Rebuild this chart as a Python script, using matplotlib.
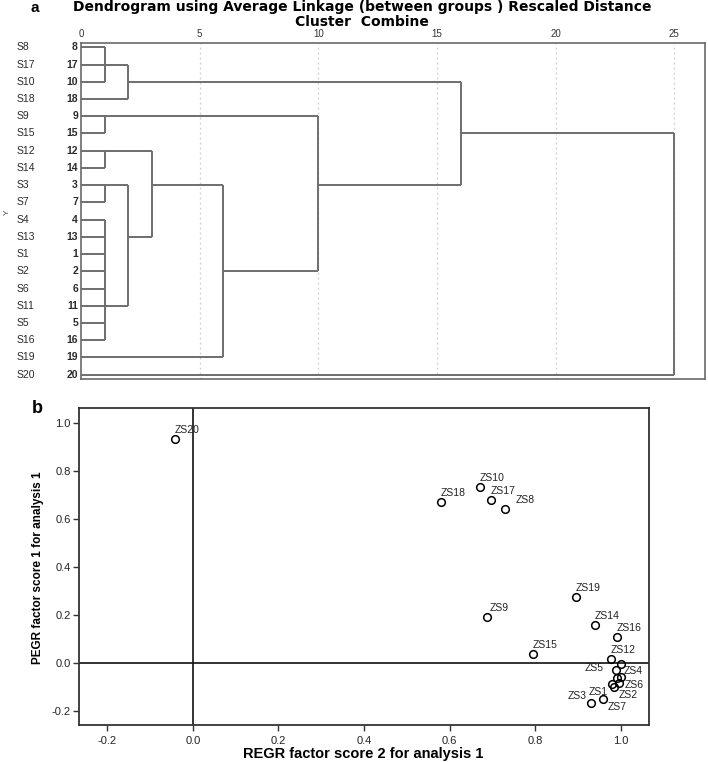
import matplotlib
matplotlib.use("Agg")
import matplotlib.pyplot as plt

plt.rcParams['font.family'] = ['Liberation Sans', 'DejaVu Sans']

# ---------------- Dendrogram data ----------------
row_labels = ['S8', 'S17', 'S10', 'S18', 'S9', 'S15', 'S12', 'S14', 'S3', 'S7',
              'S4', 'S13', 'S1', 'S2', 'S6', 'S11', 'S5', 'S16', 'S19', 'S20']
case_numbers = [8, 17, 10, 18, 9, 15, 12, 14, 3, 7, 4, 13, 1, 2, 6, 11, 5, 16, 19, 20]
# merges: children node ids (leaves are row indices 0..19, new nodes 20+i)
merge_children = [[0, 1, 2], [20, 3], [4, 5], [6, 7], [8, 9],
                  [10, 11, 12, 13, 14, 15, 16, 17], [24, 25], [23, 26],
                  [27, 18], [22, 28], [21, 29], [30, 19]]
merge_dist = [1, 2, 1, 1, 1, 1, 2, 3, 6, 10, 16, 25]
merge_rep_row = [1, 2, 4, 6, 8, 15, 11, 8, 13, 8, 5, 12]
dist_ticks = [0, 5, 10, 15, 20, 25]

# ---------------- Scatter data ----------------
point_names = ['ZS1', 'ZS2', 'ZS3', 'ZS4', 'ZS5', 'ZS6', 'ZS7', 'ZS8', 'ZS9', 'ZS10',
               'ZS11', 'ZS12', 'ZS13', 'ZS14', 'ZS15', 'ZS16', 'ZS17', 'ZS18', 'ZS19', 'ZS20']
score2 = [0.980, 0.984, 0.931, 1.001, 0.988, 0.996, 0.959, 0.729, 0.688, 0.670,
          1.000, 0.977, 0.992, 0.939, 0.795, 0.991, 0.696, 0.579, 0.895, -0.041]
score1 = [-0.089, -0.100, -0.170, -0.058, -0.032, -0.084, -0.153, 0.642, 0.190, 0.735,
          -0.005, 0.014, -0.063, 0.157, 0.035, 0.109, 0.680, 0.670, 0.275, 0.933]
show_label = [True, True, True, True, True, True, True, True, True, True,
              False, True, False, True, True, True, True, True, True, True]
x_ticks = [-0.2, 0.0, 0.2, 0.4, 0.6, 0.8, 1.0]
y_ticks = [-0.2, 0.0, 0.2, 0.4, 0.6, 0.8, 1.0]

# label offsets in pixels (style only)
label_offsets = {'ZS5': (-22, 2), 'ZS4': (12, 6), 'ZS6': (15, -2), 'ZS2': (14, -8),
                 'ZS1': (-14, -8), 'ZS3': (-14, 7), 'ZS7': (14, -8), 'ZS8': (20, 9)}

fig = plt.figure(figsize=(7.08, 7.62), dpi=100)

# ================= Panel a: dendrogram =================
ax1 = fig.add_axes([0.1144, 0.5026, 0.9958 - 0.1144, 0.9436 - 0.5026])
line_kw = dict(color='#6e6e6e', lw=1.4, solid_capstyle='butt')

node_x = {i: 0.0 for i in range(len(row_labels))}
node_row = {i: float(i) for i in range(len(row_labels))}
for k, (children, d, rep) in enumerate(zip(merge_children, merge_dist, merge_rep_row)):
    rows = []
    for c in children:
        ax1.plot([node_x[c], d], [node_row[c], node_row[c]], **line_kw)
        rows.append(node_row[c])
    ax1.plot([d, d], [min(rows), max(rows)], **line_kw)
    nid = len(row_labels) + k
    node_x[nid] = d
    node_row[nid] = rep

for t in dist_ticks[1:]:
    ax1.axvline(t, color='#cfcfcf', lw=0.9, ls=(0, (1.5, 2.5)), zorder=0)

ax1.set_xlim(0, 26.3)
ax1.set_ylim(19.25, -0.25)
ax1.xaxis.tick_top()
ax1.set_xticks(dist_ticks)
ax1.set_xticklabels([str(t) for t in dist_ticks], fontsize=7, color='#333333')
ax1.tick_params(axis='x', length=0, pad=3)
ax1.set_yticks([])
for s in ax1.spines.values():
    s.set_color('#6a6a6a')
    s.set_linewidth(1.2)

for i, (lab, num) in enumerate(zip(row_labels, case_numbers)):
    ax1.annotate(lab, xy=(0, i), xycoords=('axes fraction', 'data'),
                 xytext=(-64, 0), textcoords='offset pixels',
                 ha='left', va='center', fontsize=7.5, color='#2a2a2a')
    ax1.annotate(str(num), xy=(0, i), xycoords=('axes fraction', 'data'),
                 xytext=(-3, 0), textcoords='offset pixels',
                 ha='right', va='center', fontsize=7.5, color='#2a2a2a',
                 fontweight='bold')

fig.text(0.005, 1 - 212 / 762, 'Y', rotation=90, fontsize=6, color='#444444',
         ha='left', va='center')
fig.text(0.511, 1 - 0 / 762, 'Dendrogram using Average Linkage (between groups ) Rescaled Distance',
         ha='center', va='top', fontsize=10, fontweight='bold', family='DejaVu Sans')
fig.text(0.511, 1 - 15 / 762, 'Cluster  Combine', ha='center', va='top',
         fontsize=10, fontweight='bold', family='DejaVu Sans')
fig.text(35 / 708, 1 - 1 / 762, 'a', ha='center', va='top', fontsize=11, fontweight='bold')

# ================= Panel b: scatter =================
ax2 = fig.add_axes([0.1116, 0.0486, 0.9162 - 0.1116, 0.4642 - 0.0486])
ax2.axhline(0, color='#111111', lw=1.2, zorder=1)
ax2.axvline(0, color='#111111', lw=1.2, zorder=1)
ax2.plot(score2, score1, 'o', mfc='none', mec='black', ms=5.5, mew=1.1, ls='none', zorder=3)

for name, xv, yv, show in zip(point_names, score2, score1, show_label):
    if not show:
        continue
    off = label_offsets.get(name, (12, 9))
    ax2.annotate(name, xy=(xv, yv), xytext=off, textcoords='offset pixels',
                 ha='center', va='center', fontsize=7.5, color='#222222')

ax2.set_xlim(-0.266, 1.065)
ax2.set_ylim(-0.260, 1.063)
ax2.set_xticks(x_ticks)
ax2.set_yticks(y_ticks)
ax2.set_xticklabels([f'{v:.1f}' for v in x_ticks], fontsize=8, color='#222222')
ax2.set_yticklabels([f'{v:.1f}' for v in y_ticks], fontsize=8, color='#222222')
ax2.tick_params(direction='out', length=4, width=1, color='#333333', pad=2)
ax2.tick_params(axis='x', pad=4)
for s in ax2.spines.values():
    s.set_color('#333333')
    s.set_linewidth(1.3)

fig.text(363 / 708, 1 - 754 / 762, 'REGR factor score 2 for analysis 1',
         ha='center', va='center', fontsize=10.5, fontweight='bold')
fig.text(38 / 708, 1 - 568 / 762, 'PEGR factor score 1 for analysis 1',
         ha='center', va='center', fontsize=8.5, fontweight='bold', rotation=90)
fig.text(37 / 708, 1 - 408 / 762, 'b', ha='center', va='center', fontsize=13, fontweight='bold')

fig.savefig('out.png', dpi=100)
